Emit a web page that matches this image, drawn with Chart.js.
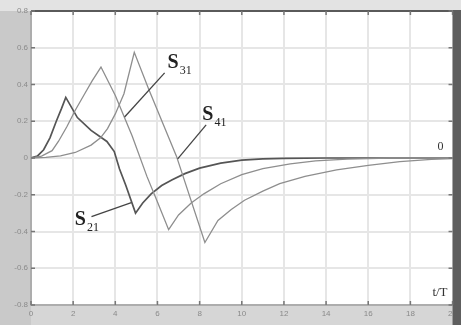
<!DOCTYPE html>
<html>
<head>
<meta charset="utf-8">
<script src="https://cdn.jsdelivr.net/npm/chart.js@4.4.0/dist/chart.umd.min.js"></script>
<style>
  html, body { margin: 0; padding: 0; background: #d6d6d6; }
  #wrap { width: 461px; height: 325px; }
</style>
</head>
<body>
<div id="wrap"><canvas id="sChart" width="461" height="325"></canvas></div>
<script>
// values (t/T on x, response on y)
var s21T = [0, 0.3, 0.6, 0.9, 1.2, 1.45, 1.65, 2.2, 2.85, 3.6, 3.95, 4.2, 4.5, 4.96, 5.3, 5.7, 6.2, 6.7, 7.3, 8.0, 9.0, 10.0, 11.0, 12.0, 14.0, 20.0];
var s21Y = [0, 0.01, 0.045, 0.11, 0.2, 0.27, 0.33, 0.22, 0.15, 0.09, 0.035, -0.06, -0.15, -0.30, -0.245, -0.195, -0.15, -0.118, -0.085, -0.055, -0.028, -0.012, -0.005, -0.002, 0, 0];

var s31T = [0, 0.5, 1.0, 1.3, 1.7, 2.1, 2.5, 2.9, 3.32, 4.0, 4.8, 5.5, 6.0, 6.53, 7.0, 7.6, 8.2, 9.0, 10.0, 11.0, 12.3, 13.5, 15.0, 17.0, 20.0];
var s31Y = [0, 0.01, 0.04, 0.09, 0.17, 0.26, 0.34, 0.42, 0.495, 0.34, 0.12, -0.1, -0.24, -0.39, -0.31, -0.245, -0.195, -0.14, -0.09, -0.058, -0.032, -0.016, -0.006, 0, 0];

var s41T = [0, 0.7, 1.4, 2.1, 2.85, 3.3, 3.63, 4.0, 4.41, 4.9, 5.6, 6.9, 8.25, 8.87, 9.5, 10.13, 11.0, 11.8, 13.0, 14.5, 16.0, 17.5, 19.0, 20.0];
var s41Y = [0, 0.003, 0.012, 0.03, 0.07, 0.11, 0.16, 0.24, 0.35, 0.575, 0.37, 0.01, -0.46, -0.34, -0.28, -0.23, -0.18, -0.14, -0.1, -0.065, -0.04, -0.02, -0.008, -0.003];

var xTicks = [0, 2, 4, 6, 8, 10, 12, 14, 16, 18, 20];
var yTicks = [-0.8, -0.6, -0.4, -0.2, 0, 0.2, 0.4, 0.6, 0.8];

// curve labels: text, subscript, label spot and pointer line, in data units
var notes = [
  { name: 'S', sub: '31', at: [6.48, 0.49], from: [6.34, 0.463], to: [4.44, 0.223] },
  { name: 'S', sub: '41', at: [8.13, 0.207], from: [8.31, 0.18], to: [6.96, -0.005] },
  { name: 'S', sub: '21', at: [2.08, -0.365], from: [2.87, -0.319], to: [4.76, -0.243] }
];

function pts(tt, yy) {
  return tt.map(function(t, i) { return { x: t, y: yy[i] }; });
}

var frame = {
  id: 'frame',
  beforeDraw: function(chart) {
    var c = chart.ctx, a = chart.chartArea;
    c.save();
    c.fillStyle = '#d6d6d6';
    c.fillRect(0, 0, chart.width, chart.height);
    c.fillStyle = '#e3e3e3';
    c.fillRect(0, 0, chart.width, a.top);
    c.fillStyle = '#c9c9c9';
    c.fillRect(0, a.top, a.left, chart.height - a.top);
    c.fillStyle = '#ffffff';
    c.fillRect(a.left, a.top, a.right - a.left, a.bottom - a.top);
    c.restore();
  },
  afterDraw: function(chart) {
    var c = chart.ctx, a = chart.chartArea;
    var xs = chart.scales.x, ys = chart.scales.y;
    c.save();
    // border
    c.strokeStyle = '#9a9a9a';
    c.lineWidth = 1.5;
    c.beginPath();
    c.moveTo(a.left, a.top); c.lineTo(a.left, a.bottom); c.lineTo(a.right, a.bottom);
    c.stroke();
    c.strokeStyle = '#5a5a5a';
    c.lineWidth = 2;
    c.beginPath();
    c.moveTo(a.left, a.top); c.lineTo(a.right, a.top);
    c.stroke();
    c.fillStyle = '#5e5e5e';
    c.fillRect(a.right, a.top - 1, chart.width - a.right, chart.height - a.top + 1);
    // small inward ticks
    c.strokeStyle = '#777';
    c.lineWidth = 1.5;
    xTicks.forEach(function(v) {
      var px = xs.getPixelForValue(v);
      c.beginPath();
      c.moveTo(px, a.top); c.lineTo(px, a.top + 4);
      c.moveTo(px, a.bottom); c.lineTo(px, a.bottom - 4);
      c.stroke();
    });
    yTicks.forEach(function(v) {
      var py = ys.getPixelForValue(v);
      c.beginPath();
      c.moveTo(a.left, py); c.lineTo(a.left + 4, py);
      c.moveTo(a.right, py); c.lineTo(a.right - 4, py);
      c.stroke();
    });
    c.restore();
  },
  afterDatasetsDraw: function(chart) {
    var c = chart.ctx, a = chart.chartArea;
    var xs = chart.scales.x, ys = chart.scales.y;
    c.save();
    notes.forEach(function(n) {
      c.strokeStyle = '#444';
      c.lineWidth = 1.3;
      c.beginPath();
      c.moveTo(xs.getPixelForValue(n.from[0]), ys.getPixelForValue(n.from[1]));
      c.lineTo(xs.getPixelForValue(n.to[0]), ys.getPixelForValue(n.to[1]));
      c.stroke();
      var lx = xs.getPixelForValue(n.at[0]), ly = ys.getPixelForValue(n.at[1]);
      c.fillStyle = '#222';
      c.textBaseline = 'alphabetic';
      c.textAlign = 'left';
      c.font = 'bold 20px "Liberation Serif", serif';
      c.fillText(n.name, lx, ly);
      var w = c.measureText(n.name).width;
      c.font = '12px "Liberation Serif", serif';
      c.fillText(n.sub, lx + w + 1, ly + 6);
    });
    c.fillStyle = '#333';
    c.font = '13px "Liberation Serif", serif';
    c.textAlign = 'right';
    c.fillText('t/T', a.right - 5, a.bottom - 9);
    c.font = '12px "Liberation Serif", serif';
    c.fillText('0', a.right - 9, ys.getPixelForValue(0) - 8);
    c.restore();
  }
};

var ctx = document.getElementById('sChart').getContext('2d');
var sChart = new Chart(ctx, {
  type: 'line',
  data: {
    datasets: [
      { label: 'S41', data: pts(s41T, s41Y), borderColor: '#8e8e8e', borderWidth: 1.3 },
      { label: 'S31', data: pts(s31T, s31Y), borderColor: '#8e8e8e', borderWidth: 1.3 },
      { label: 'S21', data: pts(s21T, s21Y), borderColor: '#555555', borderWidth: 1.7 }
    ]
  },
  options: {
    responsive: false,
    animation: false,
    parsing: true,
    elements: {
      point: { radius: 0 },
      line: { tension: 0, fill: false }
    },
    layout: { padding: { top: 11, right: 7, left: 0, bottom: 0 } },
    plugins: {
      legend: { display: false },
      tooltip: { enabled: false }
    },
    scales: {
      x: {
        type: 'linear',
        min: 0,
        max: 20,
        afterBuildTicks: function(s) { s.ticks = xTicks.map(function(v) { return { value: v }; }); },
        afterFit: function(s) { s.height = 20; },
        ticks: {
          color: '#8a8a8a',
          font: { family: 'Liberation Sans', size: 8 },
          padding: 4,
          maxRotation: 0,
          callback: function(v) { return String(v); }
        },
        grid: { color: '#e6e6e6', lineWidth: 2, drawTicks: false },
        border: { display: false }
      },
      y: {
        type: 'linear',
        min: -0.8,
        max: 0.8,
        afterBuildTicks: function(s) { s.ticks = yTicks.map(function(v) { return { value: v }; }); },
        afterFit: function(s) { s.width = 31; },
        ticks: {
          color: '#8a8a8a',
          font: { family: 'Liberation Sans', size: 8 },
          padding: 3,
          callback: function(v) { return v === 0 ? '0' : v.toFixed(1); }
        },
        grid: { color: '#e6e6e6', lineWidth: 2, drawTicks: false },
        border: { display: false }
      }
    }
  },
  plugins: [frame]
});
</script>
</body>
</html>
